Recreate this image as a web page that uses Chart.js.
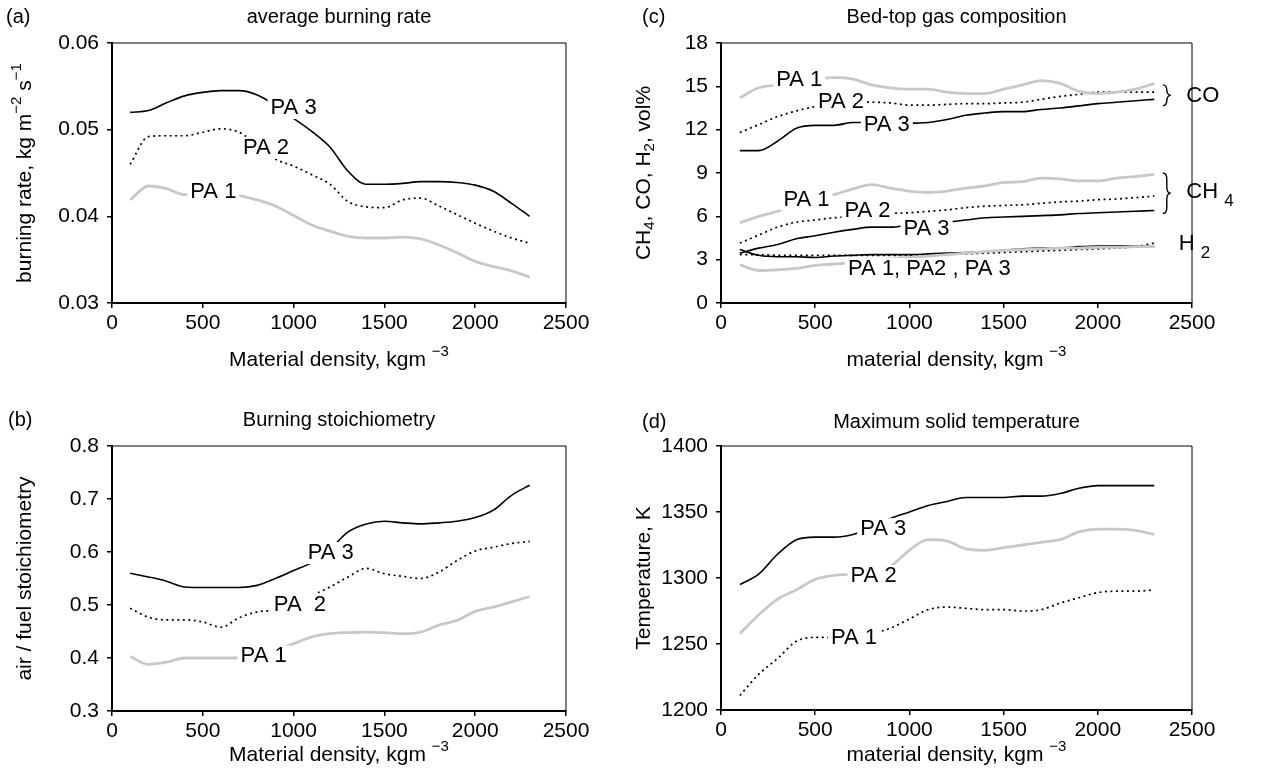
<!DOCTYPE html>
<html>
<head>
<meta charset="utf-8">
<script src="https://cdn.jsdelivr.net/npm/chart.js@4.4.0/dist/chart.umd.min.js"></script>
<style>
  body { margin: 0; background: #fff; }
  #wrap { position: relative; width: 1267px; height: 776px; }
  .panel { position: absolute; }
</style>
</head>
<body>
<div id="wrap">
  <div class="panel" style="left:0;top:0;width:633px;height:385px"><canvas id="chartA"></canvas></div>
  <div class="panel" style="left:0;top:388px;width:633px;height:388px"><canvas id="chartB"></canvas></div>
  <div class="panel" style="left:620px;top:0;width:647px;height:385px"><canvas id="chartC"></canvas></div>
  <div class="panel" style="left:620px;top:388px;width:647px;height:388px"><canvas id="chartD"></canvas></div>
</div>
<script>
const FONT = "'Liberation Sans', Arial, sans-serif";
const GREY = "#c8c8c8";

// material density, kg/m3 (same grid for every curve)
const density = [100, 200, 300, 400, 500, 600, 700, 800, 900, 1000, 1100, 1200,
  1300, 1400, 1500, 1600, 1700, 1800, 1900, 2000, 2100, 2200, 2300];
const xTicks = [0, 500, 1000, 1500, 2000, 2500];

// (a) average burning rate, kg m-2 s-1
const rateTicks = [0.03, 0.04, 0.05, 0.06];
const ratePA3 = [0.0520, 0.0522, 0.0531, 0.0539, 0.0543, 0.0545, 0.0545, 0.0540, 0.0528, 0.0513, 0.0498, 0.0480,
  0.0452, 0.0437, 0.0437, 0.0438, 0.0440, 0.0440, 0.0439, 0.0436, 0.0429, 0.0415, 0.0400];
const ratePA2 = [0.0460, 0.0492, 0.0493, 0.0493, 0.0497, 0.0501, 0.0497, 0.0482, 0.0466, 0.0458, 0.0448, 0.0437,
  0.0417, 0.0411, 0.0410, 0.0419, 0.0421, 0.0412, 0.0402, 0.0392, 0.0383, 0.0375, 0.0369];
const ratePA1 = [0.0419, 0.0435, 0.0432, 0.0425, 0.0426, 0.0428, 0.0424, 0.0419, 0.0412, 0.0401, 0.0390, 0.0383,
  0.0377, 0.0375, 0.0375, 0.0376, 0.0374, 0.0367, 0.0358, 0.0348, 0.0342, 0.0337, 0.0330];

// (b) air/fuel stoichiometry
const stoichTicks = [0.3, 0.4, 0.5, 0.6, 0.7, 0.8];
const stoichPA3 = [0.560, 0.553, 0.545, 0.534, 0.533, 0.533, 0.533, 0.537, 0.550, 0.565, 0.580, 0.605,
  0.638, 0.653, 0.658, 0.655, 0.653, 0.655, 0.658, 0.665, 0.679, 0.707, 0.726];
const stoichPA2 = [0.494, 0.477, 0.472, 0.472, 0.468, 0.458, 0.476, 0.487, 0.491, 0.505, 0.518, 0.534,
  0.553, 0.569, 0.559, 0.554, 0.550, 0.562, 0.584, 0.602, 0.609, 0.616, 0.620];
const stoichPA1 = [0.403, 0.388, 0.392, 0.400, 0.400, 0.400, 0.400, 0.405, 0.415, 0.427, 0.440, 0.446,
  0.448, 0.449, 0.448, 0.446, 0.449, 0.462, 0.471, 0.488, 0.496, 0.506, 0.516];

// (c) bed-top gas composition, vol%
const gasTicks = [0, 3, 6, 9, 12, 15, 18];
const coPA1 = [14.2, 14.9, 15.1, 15.4, 15.5, 15.6, 15.5, 15.1, 14.9, 14.8, 14.8, 14.6,
  14.5, 14.5, 14.8, 15.1, 15.4, 15.2, 14.65, 14.5, 14.6, 14.8, 15.2];
const coPA2 = [11.8, 12.35, 12.9, 13.3, 13.6, 13.8, 13.9, 13.9, 13.85, 13.7, 13.7, 13.75,
  13.8, 13.8, 13.85, 13.9, 14.1, 14.3, 14.45, 14.6, 14.6, 14.6, 14.6];
const coPA3 = [10.55, 10.55, 11.2, 12.1, 12.3, 12.3, 12.5, 12.5, 12.45, 12.45, 12.5, 12.7,
  13.0, 13.15, 13.25, 13.25, 13.4, 13.5, 13.65, 13.8, 13.9, 14.0, 14.1];
const ch4PA1 = [5.55, 6.0, 6.35, 6.8, 7.2, 7.5, 7.9, 8.2, 7.95, 7.75, 7.65, 7.75,
  7.95, 8.1, 8.35, 8.4, 8.65, 8.6, 8.45, 8.45, 8.65, 8.75, 8.9];
const ch4PA2 = [4.15, 4.7, 5.25, 5.6, 5.75, 5.9, 6.0, 6.1, 6.2, 6.25, 6.35, 6.45,
  6.6, 6.7, 6.75, 6.8, 6.9, 7.0, 7.05, 7.15, 7.2, 7.3, 7.4];
const ch4PA3 = [3.45, 3.8, 4.05, 4.45, 4.65, 4.9, 5.1, 5.25, 5.25, 5.4, 5.5, 5.6,
  5.75, 5.9, 5.95, 6.0, 6.05, 6.1, 6.2, 6.25, 6.3, 6.35, 6.4];
const h2PA1 = [2.65, 2.25, 2.3, 2.4, 2.6, 2.7, 2.8, 2.95, 3.05, 3.15, 3.25, 3.35,
  3.45, 3.55, 3.65, 3.7, 3.75, 3.8, 3.8, 3.85, 3.85, 3.9, 3.9];
const h2PA2 = [3.35, 3.35, 3.3, 3.3, 3.3, 3.3, 3.3, 3.3, 3.3, 3.3, 3.3, 3.35,
  3.4, 3.45, 3.5, 3.55, 3.6, 3.65, 3.7, 3.75, 3.8, 3.9, 4.15];
const h2PA3 = [3.7, 3.3, 3.2, 3.2, 3.15, 3.25, 3.3, 3.35, 3.35, 3.35, 3.4, 3.45,
  3.5, 3.55, 3.65, 3.75, 3.8, 3.8, 3.9, 3.95, 3.95, 3.95, 3.9];

// (d) maximum solid temperature, K
const tempTicks = [1200, 1250, 1300, 1350, 1400];
const tempPA3 = [1295, 1303, 1318, 1329, 1331, 1331, 1333, 1338, 1345, 1350, 1355, 1358,
  1361, 1361, 1361, 1362, 1362, 1364, 1368, 1370, 1370, 1370, 1370];
const tempPA2 = [1258, 1272, 1284, 1291, 1299, 1302, 1303, 1305, 1309, 1321, 1329, 1328,
  1322, 1321, 1323, 1325, 1327, 1329, 1335, 1337, 1337, 1336, 1333];
const tempPA1 = [1211, 1227, 1239, 1252, 1255, 1255, 1256, 1258, 1262, 1269, 1276, 1278,
  1277, 1276, 1276, 1275, 1276, 1281, 1285, 1289, 1290, 1290, 1291];

const STYLES = {
  solid: { borderColor: "#000", borderWidth: 1.6 },
  dotted: { borderColor: "#000", borderWidth: 1.7, borderDash: [2, 3.5] },
  grey: { borderColor: GREY, borderWidth: 2.8 },
};

function line(values, style) {
  return Object.assign({
    data: density.map((d, i) => ({ x: d, y: values[i] })),
    pointRadius: 0,
    fill: false,
    cubicInterpolationMode: "monotone",
  }, STYLES[style]);
}

// text with super/subscripts, centred on (cx, cy)
function drawRich(ctx, parts, cx, cy, size, rotate) {
  ctx.save();
  ctx.translate(cx, cy);
  if (rotate) ctx.rotate(-Math.PI / 2);
  ctx.textAlign = "left";
  ctx.textBaseline = "middle";
  ctx.fillStyle = "#000";
  const fontOf = (p) => (p.s ? Math.round(size * 0.72) : size) + "px " + FONT;
  let total = 0;
  const widths = parts.map((p) => { ctx.font = fontOf(p); const w = ctx.measureText(p.t).width; total += w; return w; });
  let x = -total / 2;
  parts.forEach((p, i) => {
    ctx.font = fontOf(p);
    const dy = p.s === "sup" ? -size * 0.38 : p.s === "sub" ? size * 0.3 : 0;
    ctx.fillText(p.t, x, dy);
    x += widths[i];
  });
  ctx.restore();
}

// frame, panel letter, titles and the in-plot labels
const decor = {
  id: "decor",
  afterDatasetsDraw(chart, args, opts) {
    const { ctx, chartArea: a } = chart;
    const x = chart.scales.x, y = chart.scales.y;
    ctx.save();
    ctx.strokeStyle = "#000";
    ctx.lineWidth = 1;
    ctx.beginPath();
    ctx.moveTo(a.left, a.top);
    ctx.lineTo(a.right, a.top);
    ctx.lineTo(a.right, a.bottom);
    ctx.stroke();

    ctx.fillStyle = "#000";
    ctx.textBaseline = "middle";
    ctx.font = "20px " + FONT;
    ctx.textAlign = "left";
    ctx.fillText(opts.letter, opts.letterX, opts.titleY);
    ctx.textAlign = "center";
    ctx.fillText(opts.title, (a.left + a.right) / 2, opts.titleY);

    drawRich(ctx, opts.xTitle, (a.left + a.right) / 2, opts.xTitleY, 21, false);
    drawRich(ctx, opts.yTitle, opts.yTitleX, (a.top + a.bottom) / 2, 21, true);

    ctx.textAlign = "center";
    ctx.font = "22px " + FONT;
    for (const l of opts.labels) {
      const px = x.getPixelForValue(l.x), py = y.getPixelForValue(l.y);
      const w = ctx.measureText(l.text).width;
      ctx.fillStyle = "#fff";
      ctx.fillRect(px - w / 2 - 3, py - 11, w + 6, 22);
      ctx.fillStyle = "#000";
      ctx.fillText(l.text, px, py);
    }

    for (const b of opts.braces || []) {
      const x0 = x.getPixelForValue(b.x);
      const p1 = y.getPixelForValue(b.top), p2 = y.getPixelForValue(b.bottom);
      const mid = (p1 + p2) / 2, w = 8;
      ctx.lineWidth = 1.4;
      ctx.beginPath();
      ctx.moveTo(x0, p1);
      ctx.quadraticCurveTo(x0 + w / 2, p1, x0 + w / 2, p1 + 6);
      ctx.lineTo(x0 + w / 2, mid - 6);
      ctx.quadraticCurveTo(x0 + w / 2, mid, x0 + w, mid);
      ctx.quadraticCurveTo(x0 + w / 2, mid, x0 + w / 2, mid + 6);
      ctx.lineTo(x0 + w / 2, p2 - 6);
      ctx.quadraticCurveTo(x0 + w / 2, p2, x0, p2);
      ctx.stroke();
    }

    ctx.textAlign = "left";
    for (const s of opts.side || []) {
      const px = x.getPixelForValue(s.x), py = y.getPixelForValue(s.y);
      ctx.font = "22px " + FONT;
      ctx.fillText(s.text, px, py);
      if (s.sub) {
        const w = ctx.measureText(s.text + " ").width;
        ctx.font = "17px " + FONT;
        ctx.fillText(s.sub, px + w, py + 10);
      }
    }
    ctx.restore();
  },
};

function makeChart(id, p) {
  return new Chart(document.getElementById(id), {
    type: "line",
    data: { datasets: p.series },
    options: {
      responsive: true,
      maintainAspectRatio: false,
      animation: false,
      events: [],
      layout: { padding: { top: p.padTop, right: p.padRight, left: 0, bottom: 0 } },
      plugins: {
        legend: { display: false },
        tooltip: { enabled: false },
        decor: p.decor,
      },
      scales: {
        x: {
          type: "linear", min: 0, max: 2500,
          afterBuildTicks: (s) => { s.ticks = xTicks.map((v) => ({ value: v })); },
          afterFit: (s) => { s.height = p.xHeight; },
          border: { color: "#000", width: 2 },
          grid: { drawOnChartArea: false, color: "#000", tickLength: 5, lineWidth: 1.5 },
          ticks: { color: "#000", padding: 3, maxRotation: 0, callback: (v) => String(v),
            font: { family: FONT, size: 21 } },
        },
        y: {
          type: "linear", min: p.yTicks[0], max: p.yTicks[p.yTicks.length - 1],
          afterBuildTicks: (s) => { s.ticks = p.yTicks.map((v) => ({ value: v })); },
          afterFit: (s) => { s.width = p.yWidth; },
          border: { color: "#000", width: 2 },
          grid: { drawOnChartArea: false, color: "#000", tickLength: 5, lineWidth: 1.5 },
          ticks: { color: "#000", padding: p.yTickPad, callback: (v) => Number(v).toFixed(p.digits),
            font: { family: FONT, size: 21 } },
        },
      },
    },
    plugins: [decor],
  });
}

makeChart("chartA", {
  series: [line(ratePA1, "grey"), line(ratePA2, "dotted"), line(ratePA3, "solid")],
  yTicks: rateTicks, digits: 2,
  padTop: 43, padRight: 67, yWidth: 112, xHeight: 82, yTickPad: 8,
  decor: {
    letter: "(a)", letterX: 6, titleY: 17, title: "average burning rate",
    xTitle: [{ t: "Material density, kgm " }, { t: "\u22123", s: "sup" }], xTitleY: 360,
    yTitle: [{ t: "burning rate, kg m" }, { t: "\u22122", s: "sup" }, { t: " s" }, { t: "\u22121", s: "sup" }], yTitleX: 25,
    labels: [
      { x: 1000, y: 0.0525, text: "PA 3" },
      { x: 848, y: 0.0479, text: "PA 2" },
      { x: 558, y: 0.0428, text: "PA 1" },
    ],
  },
});

makeChart("chartB", {
  series: [line(stoichPA1, "grey"), line(stoichPA2, "dotted"), line(stoichPA3, "solid")],
  yTicks: stoichTicks, digits: 1,
  padTop: 58, padRight: 67, yWidth: 112, xHeight: 65, yTickPad: 8,
  decor: {
    letter: "(b)", letterX: 8, titleY: 32, title: "Burning stoichiometry",
    xTitle: [{ t: "Material density, kgm " }, { t: "\u22123", s: "sup" }], xTitleY: 367,
    yTitle: [{ t: "air / fuel stoichiometry" }], yTitleX: 25,
    labels: [
      { x: 1205, y: 0.598, text: "PA 3" },
      { x: 1035, y: 0.501, text: "PA  2" },
      { x: 835, y: 0.403, text: "PA 1" },
    ],
  },
});

makeChart("chartC", {
  series: [
    line(coPA1, "grey"), line(coPA2, "dotted"), line(coPA3, "solid"),
    line(ch4PA1, "grey"), line(ch4PA2, "dotted"), line(ch4PA3, "solid"),
    line(h2PA1, "grey"), line(h2PA2, "dotted"), line(h2PA3, "solid"),
  ],
  yTicks: gasTicks, digits: 0,
  padTop: 43, padRight: 75, yWidth: 101, xHeight: 82, yTickPad: 8,
  decor: {
    letter: "(c)", letterX: 22, titleY: 17, title: "Bed-top gas composition",
    xTitle: [{ t: "material density, kgm " }, { t: "\u22123", s: "sup" }], xTitleY: 360,
    yTitle: [{ t: "CH" }, { t: "4", s: "sub" }, { t: ", CO, H" }, { t: "2", s: "sub" }, { t: ", vol%" }], yTitleX: 24,
    labels: [
      { x: 415, y: 15.45, text: "PA 1" },
      { x: 637, y: 13.9, text: "PA 2" },
      { x: 880, y: 12.35, text: "PA 3" },
      { x: 454, y: 7.15, text: "PA 1" },
      { x: 778, y: 6.4, text: "PA 2" },
      { x: 1091, y: 5.1, text: "PA 3" },
      { x: 1106, y: 2.35, text: "PA 1, PA2 , PA 3" },
    ],
    braces: [
      { x: 2345, top: 15.1, bottom: 13.65 },
      { x: 2345, top: 9.0, bottom: 6.2 },
    ],
    side: [
      { x: 2470, y: 14.35, text: "CO" },
      { x: 2470, y: 7.7, text: "CH", sub: "4" },
      { x: 2430, y: 4.1, text: "H", sub: "2" },
    ],
  },
});

makeChart("chartD", {
  series: [line(tempPA2, "grey"), line(tempPA1, "dotted"), line(tempPA3, "solid")],
  yTicks: tempTicks, digits: 0,
  padTop: 58, padRight: 75, yWidth: 101, xHeight: 66, yTickPad: 8,
  decor: {
    letter: "(d)", letterX: 22, titleY: 34, title: "Maximum solid temperature",
    xTitle: [{ t: "material density, kgm " }, { t: "\u22123", s: "sup" }], xTitleY: 367,
    yTitle: [{ t: "Temperature, K" }], yTitleX: 24,
    labels: [
      { x: 861, y: 1337, text: "PA 3" },
      { x: 810, y: 1301.5, text: "PA 2" },
      { x: 706, y: 1254.5, text: "PA 1" },
    ],
  },
});
</script>
</body>
</html>
